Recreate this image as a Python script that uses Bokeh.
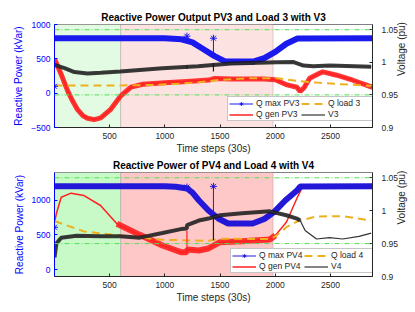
import numpy as np
from bokeh.plotting import figure
from bokeh.models import (Range1d, LinearAxis, Legend, LegendItem, BoxAnnotation,
                          Span, FixedTicker, CustomJSTickFormatter)
from bokeh.layouts import column
from bokeh.embed import file_html
from bokeh.resources import INLINE

FONT = "Liberation Sans"

# ---------------- shared ----------------
x_ticks = [500, 1000, 1500, 2000, 2500]
v_ticks = [0.9, 0.95, 1.0, 1.05]
v_limits = [0.95, 1.05]
green_zone = [1, 600]
red_zone = [600, 1980]

# ---------------- PV3 / Load 3 ----------------
t_qmax3 = [1, 10, 1000, 1150, 1250, 1350, 1450, 1550, 1800, 1900, 2000, 2100, 2200, 2880]
qmax3 = [800, 800, 800, 785, 740, 640, 540, 460, 460, 510, 600, 720, 795, 800]
star_t3 = [1, 1200, 1440]
star_q3 = [100, 830, 800]
qspike_lo3 = [100, 770, 520]

t_qgen3 = [1, 60, 122, 170, 210, 260, 300, 360, 420, 507, 596, 693, 800, 1000, 1200,
           1400, 1450, 1600, 1900, 2000, 2107, 2196, 2225, 2260, 2311, 2400, 2430, 2548,
           2696, 2880]
qgen3 = [500, 280, 25, -130, -240, -330, -365, -385, -360, -240, -48, 87, 130, 150, 170,
         190, 215, 205, 205, 195, 120, 87, 24, 80, 217, 289, 310, 265, 192, 85]

t_qload3 = [1, 600, 900, 1100, 1307, 1484, 1751, 2018, 2196, 2373, 2548, 2868]
qload3 = [110, 112, 120, 135, 158, 192, 217, 217, 178, 154, 135, 106]

t_v3 = [1, 92, 181, 300, 418, 596, 978, 1300, 1600, 2018, 2166, 2255, 2344, 2492, 2868]
v3 = [0.996, 0.991, 0.985, 0.983, 0.984, 0.986, 0.991, 0.994, 0.998, 1.0, 1.0003,
      0.995, 0.994, 0.995, 0.993]
vspike_t3 = [1200, 1440]
vspike_lo3 = [0.990, 0.986]
vspike_hi3 = [0.995, 0.999]

# ---------------- PV4 / Load 4 ----------------
t_qmax4 = [1, 10, 1000, 1100, 1200, 1250, 1307, 1395, 1484, 1573, 1795, 1900, 1988,
           2090, 2196, 2225, 2880]
qmax4 = [1200, 1200, 1200, 1195, 1170, 1110, 1000, 852, 737, 665, 665, 730, 828,
         996, 1140, 1198, 1200]
star_t4 = [1, 1200, 1440]
star_q4 = [610, 1190, 1200]
qspike_lo4 = [610, 1150, 780]

t_qgen4 = [1, 18, 62, 151, 269, 418, 566, 773, 978, 1145, 1199, 1201, 1307, 1395,
           1500, 1700, 1950, 2000, 2100, 2200, 2250, 2880]
qgen4 = [680, 808, 1044, 1102, 1068, 924, 660, 501, 347, 251, 250, 290, 275, 304,
         395, 409, 434, 492, 683, 1044, 1198, 1200]
qgen_spike_t4 = [1200]
qgen_spike_lo4 = [250]
qgen_spike_hi4 = [560]

t_qload4 = [1, 269, 596, 978, 1395, 1500, 1950, 2000, 2100, 2196, 2373, 2610, 2868]
qload4 = [700, 550, 490, 430, 415, 445, 440, 478, 611, 693, 766, 770, 708]

t_v4 = [1, 18, 62, 201, 418, 596, 773, 978, 1145, 1199, 1201, 1307, 1395, 1500, 1700,
        1950, 2100, 2196, 2225, 2270, 2373, 2492, 2610, 2758, 2868]
v4 = [0.929, 0.950, 0.959, 0.962, 0.961, 0.961, 0.959, 0.966, 0.972, 0.973, 0.978,
      0.985, 0.988, 0.993, 0.996, 0.999, 0.993, 0.988, 0.985, 0.970, 0.957, 0.959,
      0.957, 0.961, 0.966]
vspike_t4 = [1440]
vspike_lo4 = [0.955]
vspike_hi4 = [0.990]

BLUE = "#1a1aee"
RED = "#ff2020"
ORANGE = "#edb120"
BLACK = "#1a1a1a"
DARK = "#262626"
GREEN_LINE = "#55dd55"


def panel(title, yr, yticks, tq, qmax, st, sq, slo, tg, qg, red_thick, tl, ql, tv, vv,
          black_thick, vst, vlo, vhi, names, zones, legend_loc, blue, borders,
          title_standoff, extra=None):
    top, bottom = borders
    p = figure(width=415, height=top + 104 + bottom, output_backend="svg",
               toolbar_location=None,
               x_range=Range1d(1, 2880), y_range=Range1d(*yr),
               min_border_left=54, min_border_right=39, min_border_top=top,
               min_border_bottom=bottom, background_fill_color="white",
               border_fill_color="white", outline_line_color="#808080")
    p.extra_y_ranges = {"v": Range1d(0.9, 1.058)}
    p.xgrid.visible = False
    p.ygrid.visible = False

    p.title.text = title
    p.title.align = "center"
    p.title.text_font = FONT
    p.title.text_font_size = "10px"
    p.title.text_font_style = "bold"
    p.title.text_color = "black"
    p.title.standoff = title_standoff
    p.title.offset = 0

    g, r = zones
    p.add_layout(BoxAnnotation(left=green_zone[0], right=green_zone[1], fill_color=g,
                               fill_alpha=1, line_color="#7a7a7a", line_width=1,
                               level="underlay"))
    p.add_layout(BoxAnnotation(left=red_zone[0], right=red_zone[1], fill_color=r,
                               fill_alpha=1, line_color="#7a7a7a", line_width=1,
                               level="underlay"))
    for lim in v_limits:
        p.add_layout(Span(location=lim, dimension="width", y_range_name="v",
                          line_color=GREEN_LINE, line_width=1, line_dash="5 2 1 2"))

    tg_a = np.array(tg)
    qg_a = np.array(qg)
    m = (tg_a >= red_thick[0]) & (tg_a <= red_thick[1])
    p.line(tg_a[m], qg_a[m], line_width=red_thick[2], color=RED, alpha=0.9)
    thin_r = p.line(tg, qg, line_width=1.5, color=RED)

    orange = p.line(tl, ql, line_width=2, color=ORANGE, line_dash="8 5")

    p.line(tq, qmax, line_width=6, color=blue)
    thin_b = p.line(tq, qmax, line_width=1, color=blue)
    p.segment(x0=st, y0=slo, x1=st, y1=sq, color=blue, line_width=1)
    stars = p.scatter(st, sq, marker="asterisk", size=7, line_color=blue, line_width=1)
    if extra is not None:
        p.segment(x0=extra[0], y0=extra[1], x1=extra[0], y1=extra[2], color=RED,
                  line_width=1.2)

    tv_a = np.array(tv)
    vv_a = np.array(vv)
    mk = tv_a <= black_thick[0]
    p.line(tv_a[mk], vv_a[mk], line_width=black_thick[1], color=BLACK, alpha=0.85,
           y_range_name="v")
    thin_k = p.line(tv, vv, line_width=1.2, color="#333333", y_range_name="v")
    p.segment(x0=vst, y0=vlo, x1=vst, y1=vhi, color=BLACK, line_width=1.2,
              y_range_name="v")

    # axes
    xa = p.xaxis[0]
    xa.ticker = FixedTicker(ticks=x_ticks)
    xa.axis_label = "Time steps (30s)"
    xa.axis_label_standoff = 1
    xa.major_label_standoff = 5
    xa.axis_label_text_font = FONT
    xa.axis_label_text_font_size = "10px"
    xa.axis_label_text_font_style = "normal"
    xa.axis_label_text_color = DARK
    xa.major_label_text_font = FONT
    xa.major_label_text_font_size = "8.5px"
    xa.major_label_text_color = DARK
    xa.axis_line_color = DARK
    xa.major_tick_line_color = DARK
    xa.major_tick_in = 3
    xa.major_tick_out = 0
    xa.minor_tick_line_color = None

    ya = p.yaxis[0]
    ya.ticker = FixedTicker(ticks=yticks)
    ya.axis_label = "Reactive Power (kVar)"
    ya.axis_label_standoff = 4
    ya.major_label_standoff = 4
    ya.axis_label_text_font = FONT
    ya.axis_label_text_font_size = "10px"
    ya.axis_label_text_font_style = "normal"
    ya.axis_label_text_color = "#0000ff"
    ya.major_label_text_font = FONT
    ya.major_label_text_font_size = "8.5px"
    ya.major_label_text_color = "#0000ff"
    ya.axis_line_color = "#0000ff"
    ya.major_tick_line_color = "#0000ff"
    ya.major_tick_in = 3
    ya.major_tick_out = 0
    ya.minor_tick_line_color = None

    ra = LinearAxis(y_range_name="v", ticker=FixedTicker(ticks=v_ticks),
                    formatter=CustomJSTickFormatter(code="return tick.toString();"))
    ra.axis_label = "Voltage (pu)"
    ra.axis_label_orientation = float(np.pi / 2)
    ra.axis_label_standoff = 0
    ra.axis_label_text_font = FONT
    ra.axis_label_text_font_size = "10px"
    ra.axis_label_text_font_style = "normal"
    ra.axis_label_text_color = DARK
    ra.major_label_standoff = 9
    ra.major_label_text_font = FONT
    ra.major_label_text_font_size = "8.5px"
    ra.major_label_text_color = DARK
    ra.axis_line_color = DARK
    ra.major_tick_line_color = DARK
    ra.major_tick_in = 3
    ra.major_tick_out = 0
    ra.minor_tick_line_color = None
    p.add_layout(ra, "right")

    legend = Legend(items=[LegendItem(label=names[0], renderers=[thin_b, stars]),
                           LegendItem(label=names[2], renderers=[thin_r]),
                           LegendItem(label=names[1], renderers=[orange]),
                           LegendItem(label=names[3], renderers=[thin_k])],
                    location=legend_loc, ncols=2)
    legend.label_text_font = FONT
    legend.label_text_font_size = "8.5px"
    legend.label_text_color = DARK
    legend.label_width = 44
    legend.label_height = 9
    legend.glyph_width = 24
    legend.glyph_height = 9
    legend.label_standoff = 3
    legend.padding = 1
    legend.spacing = 1
    legend.margin = 0
    legend.border_line_color = "#8c8c8c"
    legend.border_line_width = 1
    legend.background_fill_color = "white"
    legend.background_fill_alpha = 1
    p.add_layout(legend)
    return p


p1 = panel("Reactive Power Output PV3 and Load 3 with V3", (-500, 1000),
           [-500, 0, 500, 1000], t_qmax3, qmax3, star_t3, star_q3, qspike_lo3,
           t_qgen3, qgen3, (1, 2880, 5), t_qload3, qload3, t_v3, v3, (2880, 4),
           vspike_t3, vspike_lo3, vspike_hi3,
           ["Q max PV3", "Q load 3", "Q gen PV3", "V3"], ("#e2fbe2", "#fde2e2"),
           (173, 6), BLUE, (24, 28), 4)

p2 = panel("Reactive Power of PV4 and Load 4 with V4", (-100, 1400),
           [0, 500, 1000], t_qmax4, qmax4, star_t4, star_q4, qspike_lo4,
           t_qgen4, qgen4, (560, 2000, 6), t_qload4, qload4, t_v4, v4, (2250, 4),
           vspike_t4, vspike_lo4, vspike_hi4,
           ["Q max PV4", "Q load 4", "Q gen PV4", "V4"], ("#c8fac8", "#ffc8c8"),
           (176, 3), "#2418d8", (16, 36), 3,
           extra=(qgen_spike_t4, qgen_spike_lo4, qgen_spike_hi4))

layout = column(p1, p2, spacing=0)
open("out.html", "w").write(file_html(layout, INLINE))
